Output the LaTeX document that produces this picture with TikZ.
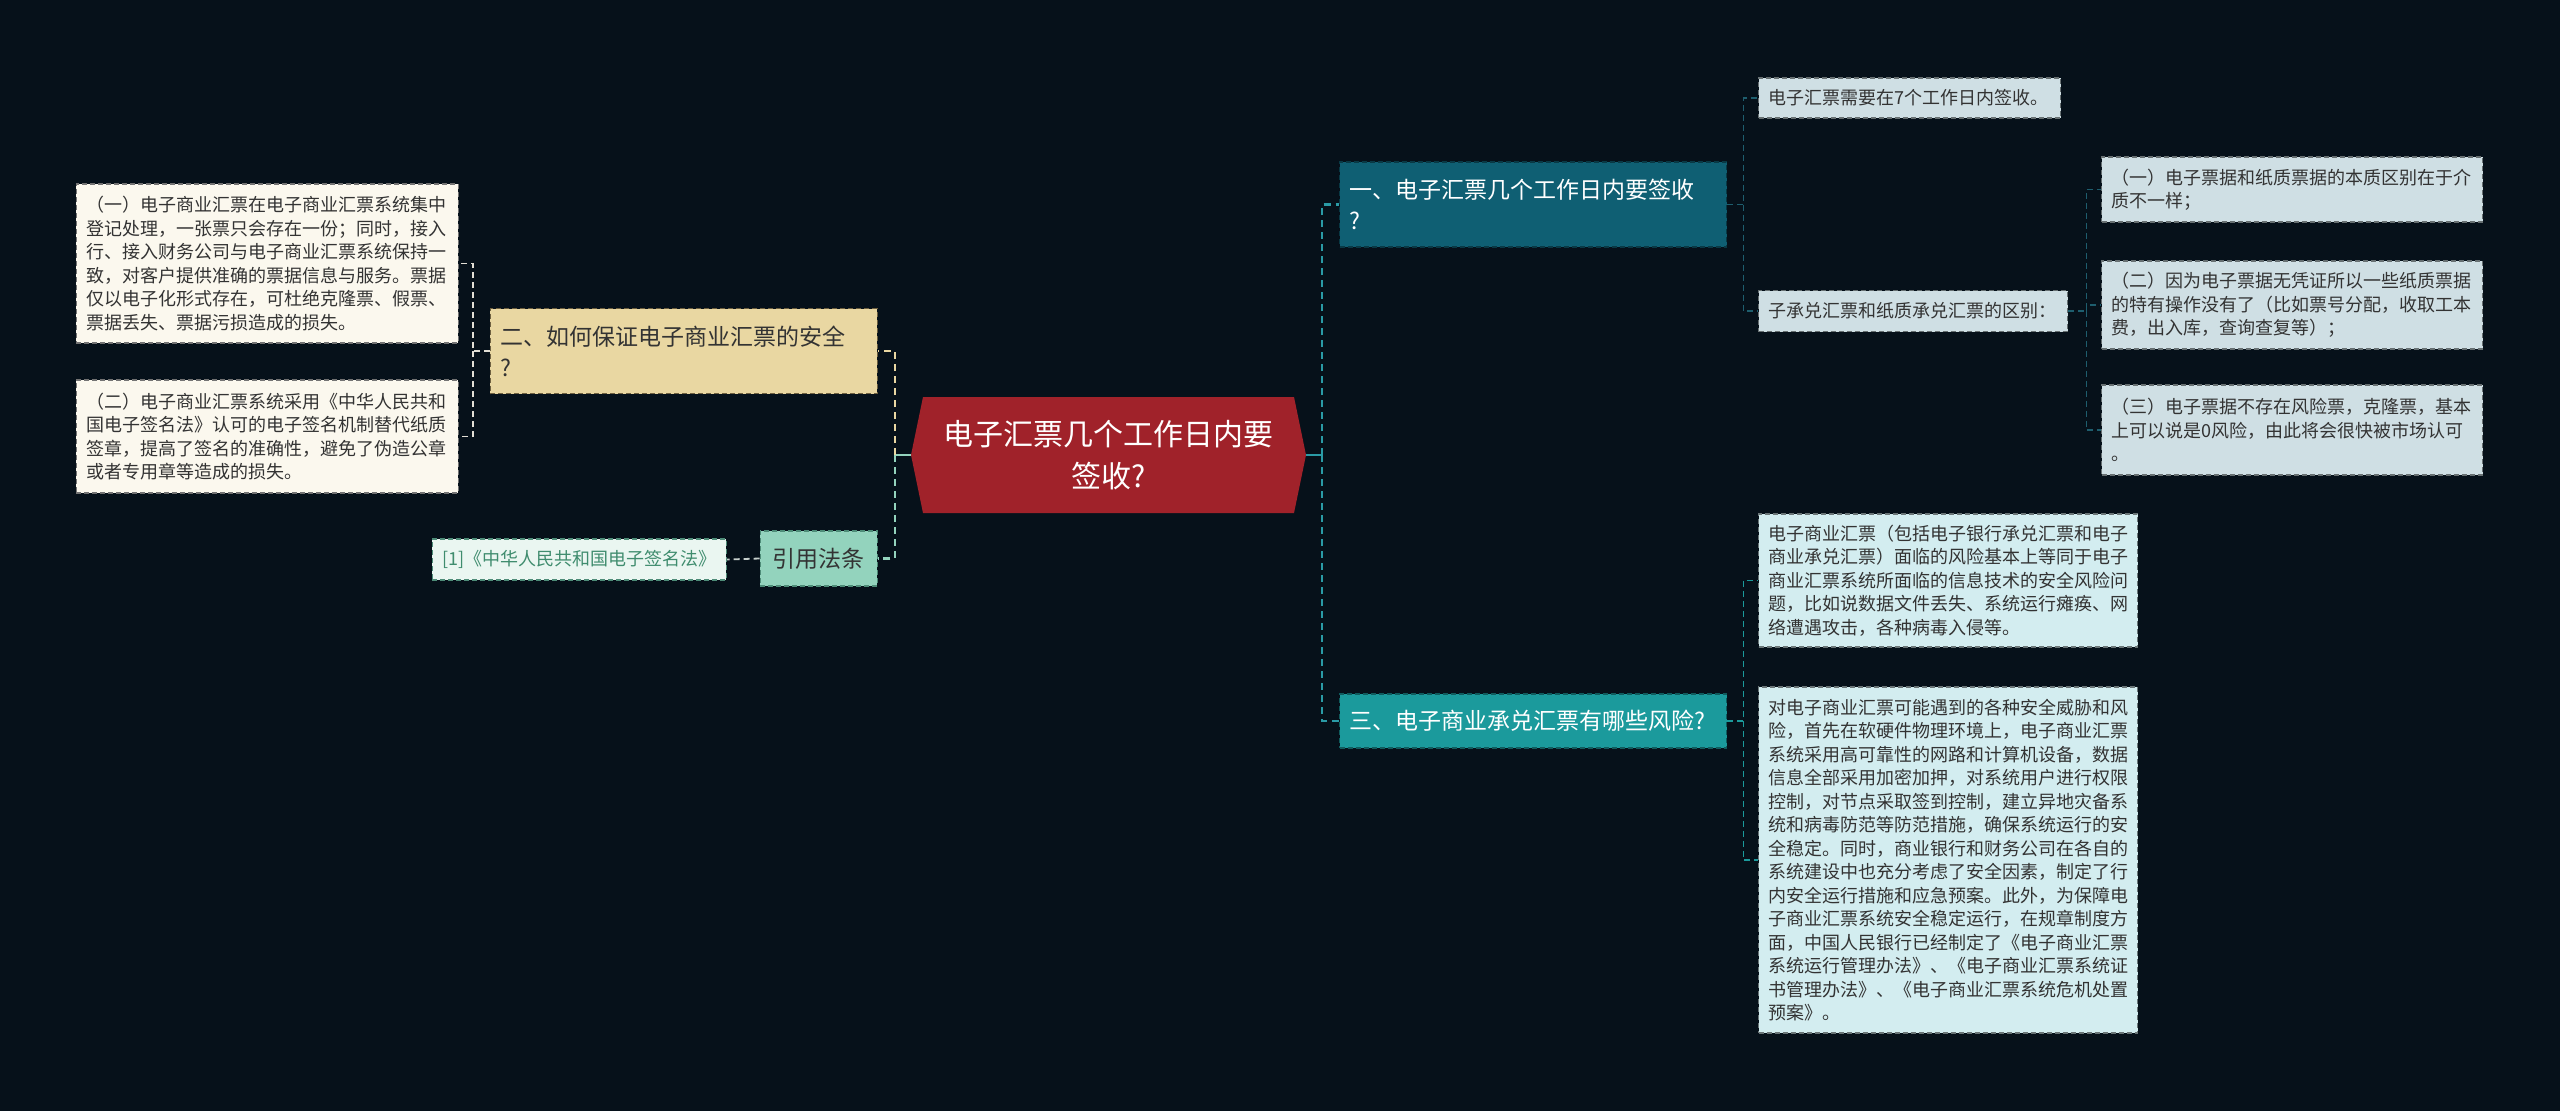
\documentclass[tikz,border=0pt]{standalone}
\usepackage{fontspec}
\setmainfont{Noto Sans CJK SC}
\definecolor{bgcol}{HTML}{06111A}
\definecolor{centrered}{HTML}{A0222A}
\definecolor{tanfill}{HTML}{E9D7A2}
\definecolor{tanline}{HTML}{6E6040}
\definecolor{creamfill}{HTML}{FBF8EE}
\definecolor{mintfill}{HTML}{93D3BD}
\definecolor{mintline}{HTML}{4E8C78}
\definecolor{citefill}{HTML}{EAF6F1}
\definecolor{citetext}{HTML}{3F8C6E}
\definecolor{navyfill}{HTML}{0F5F73}
\definecolor{navylink}{HTML}{1E5E6E}
\definecolor{greyblue}{HTML}{CFDFE4}
\definecolor{tealfill}{HTML}{1B9A9C}
\definecolor{teallink}{HTML}{2A9BA6}
\definecolor{cyanfill}{HTML}{D3EDF0}
\tikzset{box/.style = {rectangle, dash pattern=on 5pt off 3pt, line width=1.4pt,
                       inner xsep=10pt, inner ysep=5pt, align=left}}
\tikzset{leaf/.style = {box, fill=creamfill, draw=black!55, text=black!80,
                        font=\fontsize{18}{23.5}\selectfont}}
\tikzset{branch/.style = {box, font=\fontsize{23}{31}\selectfont}}
\tikzset{centre/.style = {rectangle, fill=bgcol, minimum width=395pt, minimum height=116pt,
                          align=center, text=white, font=\fontsize{30}{42}\selectfont,
                          path picture={\fill[centrered]
                            ([xshift=12pt]path picture bounding box.north west)
                            -- ([xshift=-12pt]path picture bounding box.north east)
                            -- (path picture bounding box.east)
                            -- ([xshift=-12pt]path picture bounding box.south east)
                            -- ([xshift=12pt]path picture bounding box.south west)
                            -- (path picture bounding box.west) -- cycle;}}}
\tikzset{stubline/.style = {line width=2.5pt}}
\tikzset{linkbig/.style = {line width=2.5pt, dash pattern=on 7pt off 5pt}}
\tikzset{linksmall/.style = {line width=1.8pt, dash pattern=on 6pt off 4pt}}

\begin{document}
\begin{tikzpicture}[x=1pt, y=-1pt]
  \fill[bgcol] (0,0) rectangle (2560,1111);
  \useasboundingbox (0,0) rectangle (2560,1111);

  % centre
  \node [centre] (c) at (1108.5,455) {电子汇票几个工作日内要\\签收?};

  % left side
  \node [branch, fill=tanfill, draw=tanline, text=black!80, anchor=east,
         text width=367pt, minimum height=85pt] (b2) at (878,351)
        {二、如何保证电子商业汇票的安全\\?};
  \node [branch, fill=mintfill, draw=mintline, text=black!80, anchor=east, align=center,
         text width=97pt, minimum height=55pt] (b4) at (878,558.5) {引用法条};

  \node [leaf, anchor=east, text width=362pt, minimum height=159pt] (l1) at (459,263.5)
        {（一）电子商业汇票在电子商业汇票系统集中\\
         登记处理，一张票只会存在一份；同时，接入\\
         行、接入财务公司与电子商业汇票系统保持一\\
         致，对客户提供准确的票据信息与服务。票据\\
         仅以电子化形式存在，可杜绝克隆票、假票、\\
         票据丢失、票据污损造成的损失。};
  \node [leaf, anchor=east, text width=362pt, minimum height=113pt] (l2) at (459,436.5)
        {（二）电子商业汇票系统采用《中华人民共和\\
         国电子签名法》认可的电子签名机制替代纸质\\
         签章，提高了签名的准确性，避免了伪造公章\\
         或者专用章等造成的损失。};
  \node [leaf, fill=citefill, draw=mintline, text=citetext, anchor=east,
         text width=274pt, minimum height=41pt] (cite) at (727,559.5)
        {[1]《中华人民共和国电子签名法》};

  % right side
  \node [branch, fill=navyfill, draw=black!40!navyfill, text=white, anchor=west,
         text width=367pt, minimum height=85pt] (b1) at (1339,204.5)
        {一、电子汇票几个工作日内要签收\\?};
  \node [branch, fill=tealfill, draw=black!40!tealfill, text=white, anchor=west,
         text width=367pt, minimum height=54pt] (b3) at (1339,721)
        {三、电子商业承兑汇票有哪些风险?};

  \node [leaf, fill=greyblue, draw=black!50!greyblue, anchor=west,
         text width=282pt, minimum height=40pt] (r1a) at (1758,98)
        {电子汇票需要在7个工作日内签收。};
  \node [leaf, fill=greyblue, draw=black!50!greyblue, anchor=west,
         text width=289pt, minimum height=41pt] (r1b) at (1758,311)
        {子承兑汇票和纸质承兑汇票的区别：};

  \node [leaf, fill=greyblue, draw=black!50!greyblue, anchor=west,
         text width=361pt, minimum height=65pt] (sa) at (2101,189.5)
        {（一）电子票据和纸质票据的本质区别在于介\\质不一样；};
  \node [leaf, fill=greyblue, draw=black!50!greyblue, anchor=west,
         text width=361pt, minimum height=88pt] (sb) at (2101,305)
        {（二）因为电子票据无凭证所以一些纸质票据\\
         的特有操作没有了（比如票号分配，收取工本\\
         费，出入库，查询查复等）；};
  \node [leaf, fill=greyblue, draw=black!50!greyblue, anchor=west,
         text width=361pt, minimum height=90pt] (sc) at (2101,430)
        {（三）电子票据不存在风险票，克隆票，基本\\
         上可以说是0风险，由此将会很快被市场认可\\
         。};

  \node [leaf, fill=cyanfill, draw=black!50!cyanfill, anchor=west,
         text width=359pt, minimum height=133pt] (r3a) at (1758,580.5)
        {电子商业汇票（包括电子银行承兑汇票和电子\\
         商业承兑汇票）面临的风险基本上等同于电子\\
         商业汇票系统所面临的信息技术的安全风险问\\
         题，比如说数据文件丢失、系统运行瘫痪、网\\
         络遭遇攻击，各种病毒入侵等。};
  \node [leaf, fill=cyanfill, draw=black!50!cyanfill, anchor=west,
         text width=359pt, minimum height=346pt] (r3b) at (1758,860)
        {对电子商业汇票可能遇到的各种安全威胁和风\\
         险，首先在软硬件物理环境上，电子商业汇票\\
         系统采用高可靠性的网路和计算机设备，数据\\
         信息全部采用加密加押，对系统用户进行权限\\
         控制，对节点采取签到控制，建立异地灾备系\\
         统和病毒防范等防范措施，确保系统运行的安\\
         全稳定。同时，商业银行和财务公司在各自的\\
         系统建设中也充分考虑了安全因素，制定了行\\
         内安全运行措施和应急预案。此外，为保障电\\
         子商业汇票系统安全稳定运行，在规章制度方\\
         面，中国人民银行已经制定了《电子商业汇票\\
         系统运行管理办法》、《电子商业汇票系统证\\
         书管理办法》、《电子商业汇票系统危机处置\\
         预案》。};

  % connectors
  \coordinate (cl) at ([xshift=-16pt]c.west);
  \coordinate (cr) at ([xshift=16pt]c.east);
  \draw [stubline, mintfill] (c.west) -- (cl);
  \draw [linkbig, tanfill] (cl) |- (b2.east);
  \draw [linkbig, mintfill] (cl) |- (b4.east);
  \draw [stubline, teallink] (c.east) -- (cr);
  \draw [linkbig, teallink] (cr) |- (b1.west);
  \draw [linkbig, teallink] (cr) |- (b3.west);

  \coordinate (b2l) at ([xshift=-17pt]b2.west);
  \draw [linksmall, creamfill!90!black] (b2.west) -- (b2l) |- (l1.east);
  \draw [linksmall, creamfill!90!black] (b2l) |- (l2.east);
  \draw [linksmall, citefill!85!black] (b4.west) -- (cite.east);

  \coordinate (b1r) at ([xshift=16pt]b1.east);
  \draw [linksmall, navylink] (b1.east) -- (b1r) |- (r1a.west);
  \draw [linksmall, navylink] (b1r) |- (r1b.west);
  \coordinate (r1br) at ([xshift=18pt]r1b.east);
  \draw [linksmall, navylink] (r1b.east) -- (r1br) |- (sa.west);
  \draw [linksmall, navylink] (r1br) |- (sb.west);
  \draw [linksmall, navylink] (r1br) |- (sc.west);

  \coordinate (b3r) at ([xshift=16pt]b3.east);
  \draw [linksmall, tealfill] (b3.east) -- (b3r) |- (r3a.west);
  \draw [linksmall, tealfill] (b3r) |- (r3b.west);
\end{tikzpicture}
\end{document}
